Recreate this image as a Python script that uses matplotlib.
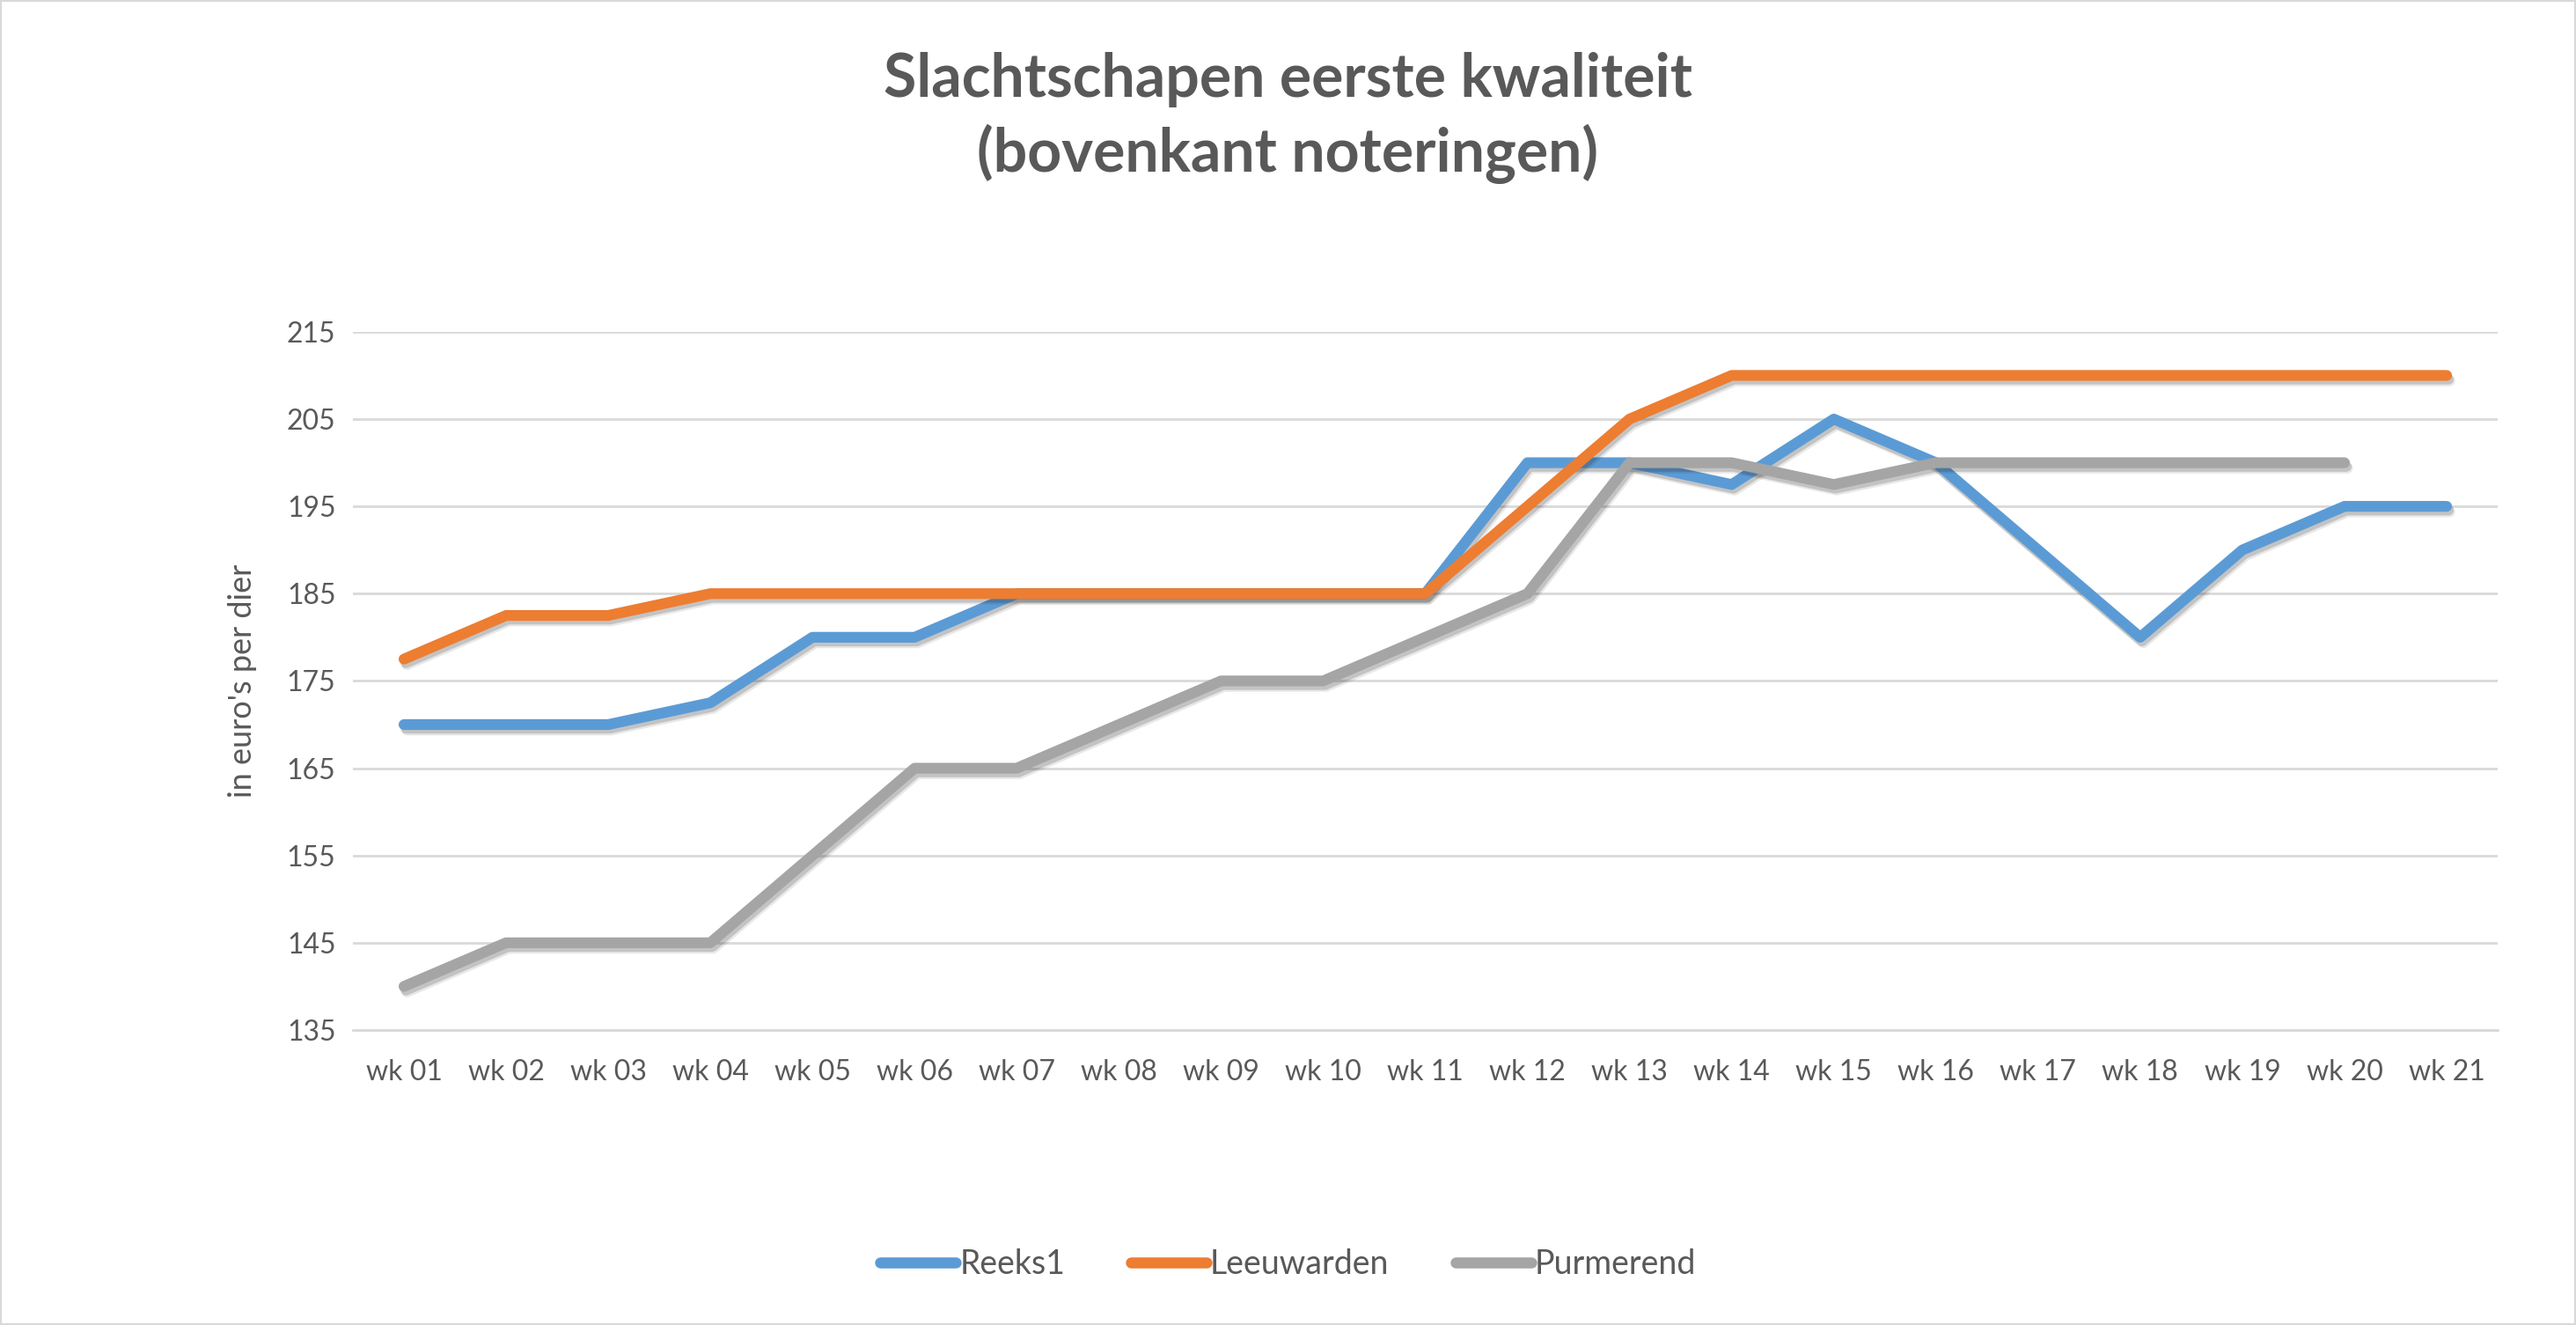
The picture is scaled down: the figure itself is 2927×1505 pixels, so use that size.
import numpy as np
import matplotlib
matplotlib.use("Agg")
import matplotlib.pyplot as plt
import matplotlib.patheffects as pe
from matplotlib.patches import Rectangle

# ── Data ──────────────────────────────────────────────────────────────────────
weeks = ["wk 01", "wk 02", "wk 03", "wk 04", "wk 05", "wk 06", "wk 07",
         "wk 08", "wk 09", "wk 10", "wk 11", "wk 12", "wk 13", "wk 14",
         "wk 15", "wk 16", "wk 17", "wk 18", "wk 19", "wk 20", "wk 21"]
reeks1 = [170, 170, 170, 172.5, 180, 180, 185, 185, 185, 185, 185,
          200, 200, 197.5, 205, 200, 190, 180, 190, 195, 195]
leeuwarden = [177.5, 182.5, 182.5, 185, 185, 185, 185, 185, 185, 185, 185,
              195, 205, 210, 210, 210, 210, 210, 210, 210, 210]
purmerend = [140, 145, 145, 145, 155, 165, 165, 170, 175, 175, 180,
             185, 200, 200, 197.5, 200, 200, 200, 200, 200, np.nan]
y_ticks = [135, 145, 155, 165, 175, 185, 195, 205, 215]

BLUE = "#5B9BD5"
ORANGE = "#ED7D31"
GRAY = "#A5A5A5"
GRID = "#D9D9D9"
TEXT = "#595959"
FONT = ["Lato", "DejaVu Sans"]

plt.rcParams["font.family"] = FONT

fig = plt.figure(figsize=(29.27, 15.05), dpi=100)
ax = fig.add_axes([0.137, 0.2226, 0.8326, 0.527])

x = np.arange(len(weeks))
# soft drop shadow like the Excel original
shadow = [pe.SimpleLineShadow(offset=(1.5, -3), alpha=0.18, shadow_color="#202020"),
          pe.SimpleLineShadow(offset=(2.5, -4.5), alpha=0.10, shadow_color="#202020"),
          pe.Normal()]
for vals, col, name in [(reeks1, BLUE, "Reeks1"),
                        (leeuwarden, ORANGE, "Leeuwarden"),
                        (purmerend, GRAY, "Purmerend")]:
    ax.plot(x, vals, color=col, lw=8.8, label=name, solid_capstyle="round",
            solid_joinstyle="round", path_effects=shadow)

ax.set_xlim(-0.5, len(weeks) - 0.5)
ax.set_ylim(135, 215)
ax.set_yticks(y_ticks)
ax.set_xticks(x)
ax.set_xticklabels(weeks)
ax.grid(axis="y", color=GRID, lw=2)
ax.set_axisbelow(True)
for s in ["top", "right", "left"]:
    ax.spines[s].set_visible(False)
ax.spines["bottom"].set_color(GRID)
ax.spines["bottom"].set_linewidth(2)
ax.tick_params(axis="both", length=0, labelsize=23, colors=TEXT, pad=14)
ax.tick_params(axis="x", pad=24)
ax.set_ylabel("in euro's per dier", fontsize=26, color=TEXT, labelpad=24)

fig.text(0.5, 0.911, "Slachtschapen eerste kwaliteit\n(bovenkant noteringen)",
         ha="center", va="center", fontsize=49, fontweight="bold", color=TEXT,
         linespacing=1.35)

leg = fig.legend(loc="center", bbox_to_anchor=(0.5, 0.046), ncol=3, frameon=False,
                 fontsize=27, handlelength=2.3, handletextpad=0.1, columnspacing=2.0,
                 labelcolor=TEXT)
for h in leg.get_lines():
    h.set_path_effects([])
    h.set_linewidth(9)

fig.patches.append(Rectangle((0, 0), 1, 1, transform=fig.transFigure, fill=False,
                             edgecolor=GRID, lw=3))

fig.savefig("out.png", dpi=100)
